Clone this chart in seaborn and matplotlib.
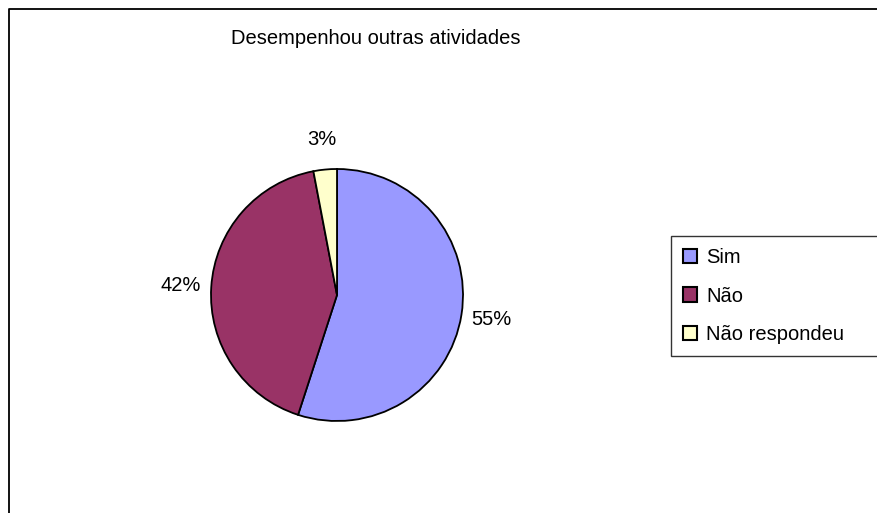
import matplotlib
matplotlib.use("Agg")
import matplotlib.pyplot as plt
from matplotlib.lines import Line2D
from matplotlib.patches import Patch
import seaborn as sns

# data
categories = ["Sim", "Não", "Não respondeu"]
shares = [55, 42, 3]
colors = ["#9999FF", "#993366", "#FFFFCC"]
title = "Desempenhou outras atividades"

sns.set_style("white")
plt.rcParams["font.family"] = ["Liberation Sans", "DejaVu Sans"]
plt.rcParams["text.color"] = "black"

W, H = 878, 513
fig = plt.figure(figsize=(W / 100, H / 100), dpi=100)

# outer chart frame (only left and top edges are visible in the crop)
fig.add_artist(Line2D([9 / W, 9 / W, 1.0], [0.0, 1 - 9 / H, 1 - 9 / H],
                      transform=fig.transFigure, color="black", lw=1.3))

# pie axes, centred at (337, 295) px with radius ~126 px
lim = 1.3
r = 126
cx, cy = 337, 295
size = 2 * lim * r
ax = fig.add_axes([(cx - size / 2) / W, (H - cy - size / 2) / H, size / W, size / H])
wedges, texts, autotexts = ax.pie(
    shares, colors=colors, startangle=90, counterclock=False,
    autopct="%1.0f%%", pctdistance=1.24,
    wedgeprops=dict(edgecolor="black", linewidth=1.3),
    textprops=dict(fontsize=14.5, color="black"))
ax.set_xlim(-lim, lim)
ax.set_ylim(-lim, lim)
ax.set_aspect("equal")
ax.axis("off")

fig.text(376 / W, 1 - 38 / H, title, ha="center", va="center",
         fontsize=14.5, color="black")

handles = [Patch(facecolor=c, edgecolor="black", linewidth=1.5) for c in colors]
leg = fig.legend(handles, categories, loc="center left", mode="expand",
                 bbox_to_anchor=(671 / W, 1 - 296 / H, (W - 671) / W, 0),
                 fontsize=14.5, frameon=True, fancybox=False, edgecolor="black",
                 handlelength=0.7, handleheight=0.7, handletextpad=0.45,
                 labelspacing=0.95, borderpad=0.6, borderaxespad=0)
leg.get_frame().set_linewidth(1.0)
for t in leg.get_texts():
    t.set_color("black")

fig.savefig("out.png", dpi=100)
